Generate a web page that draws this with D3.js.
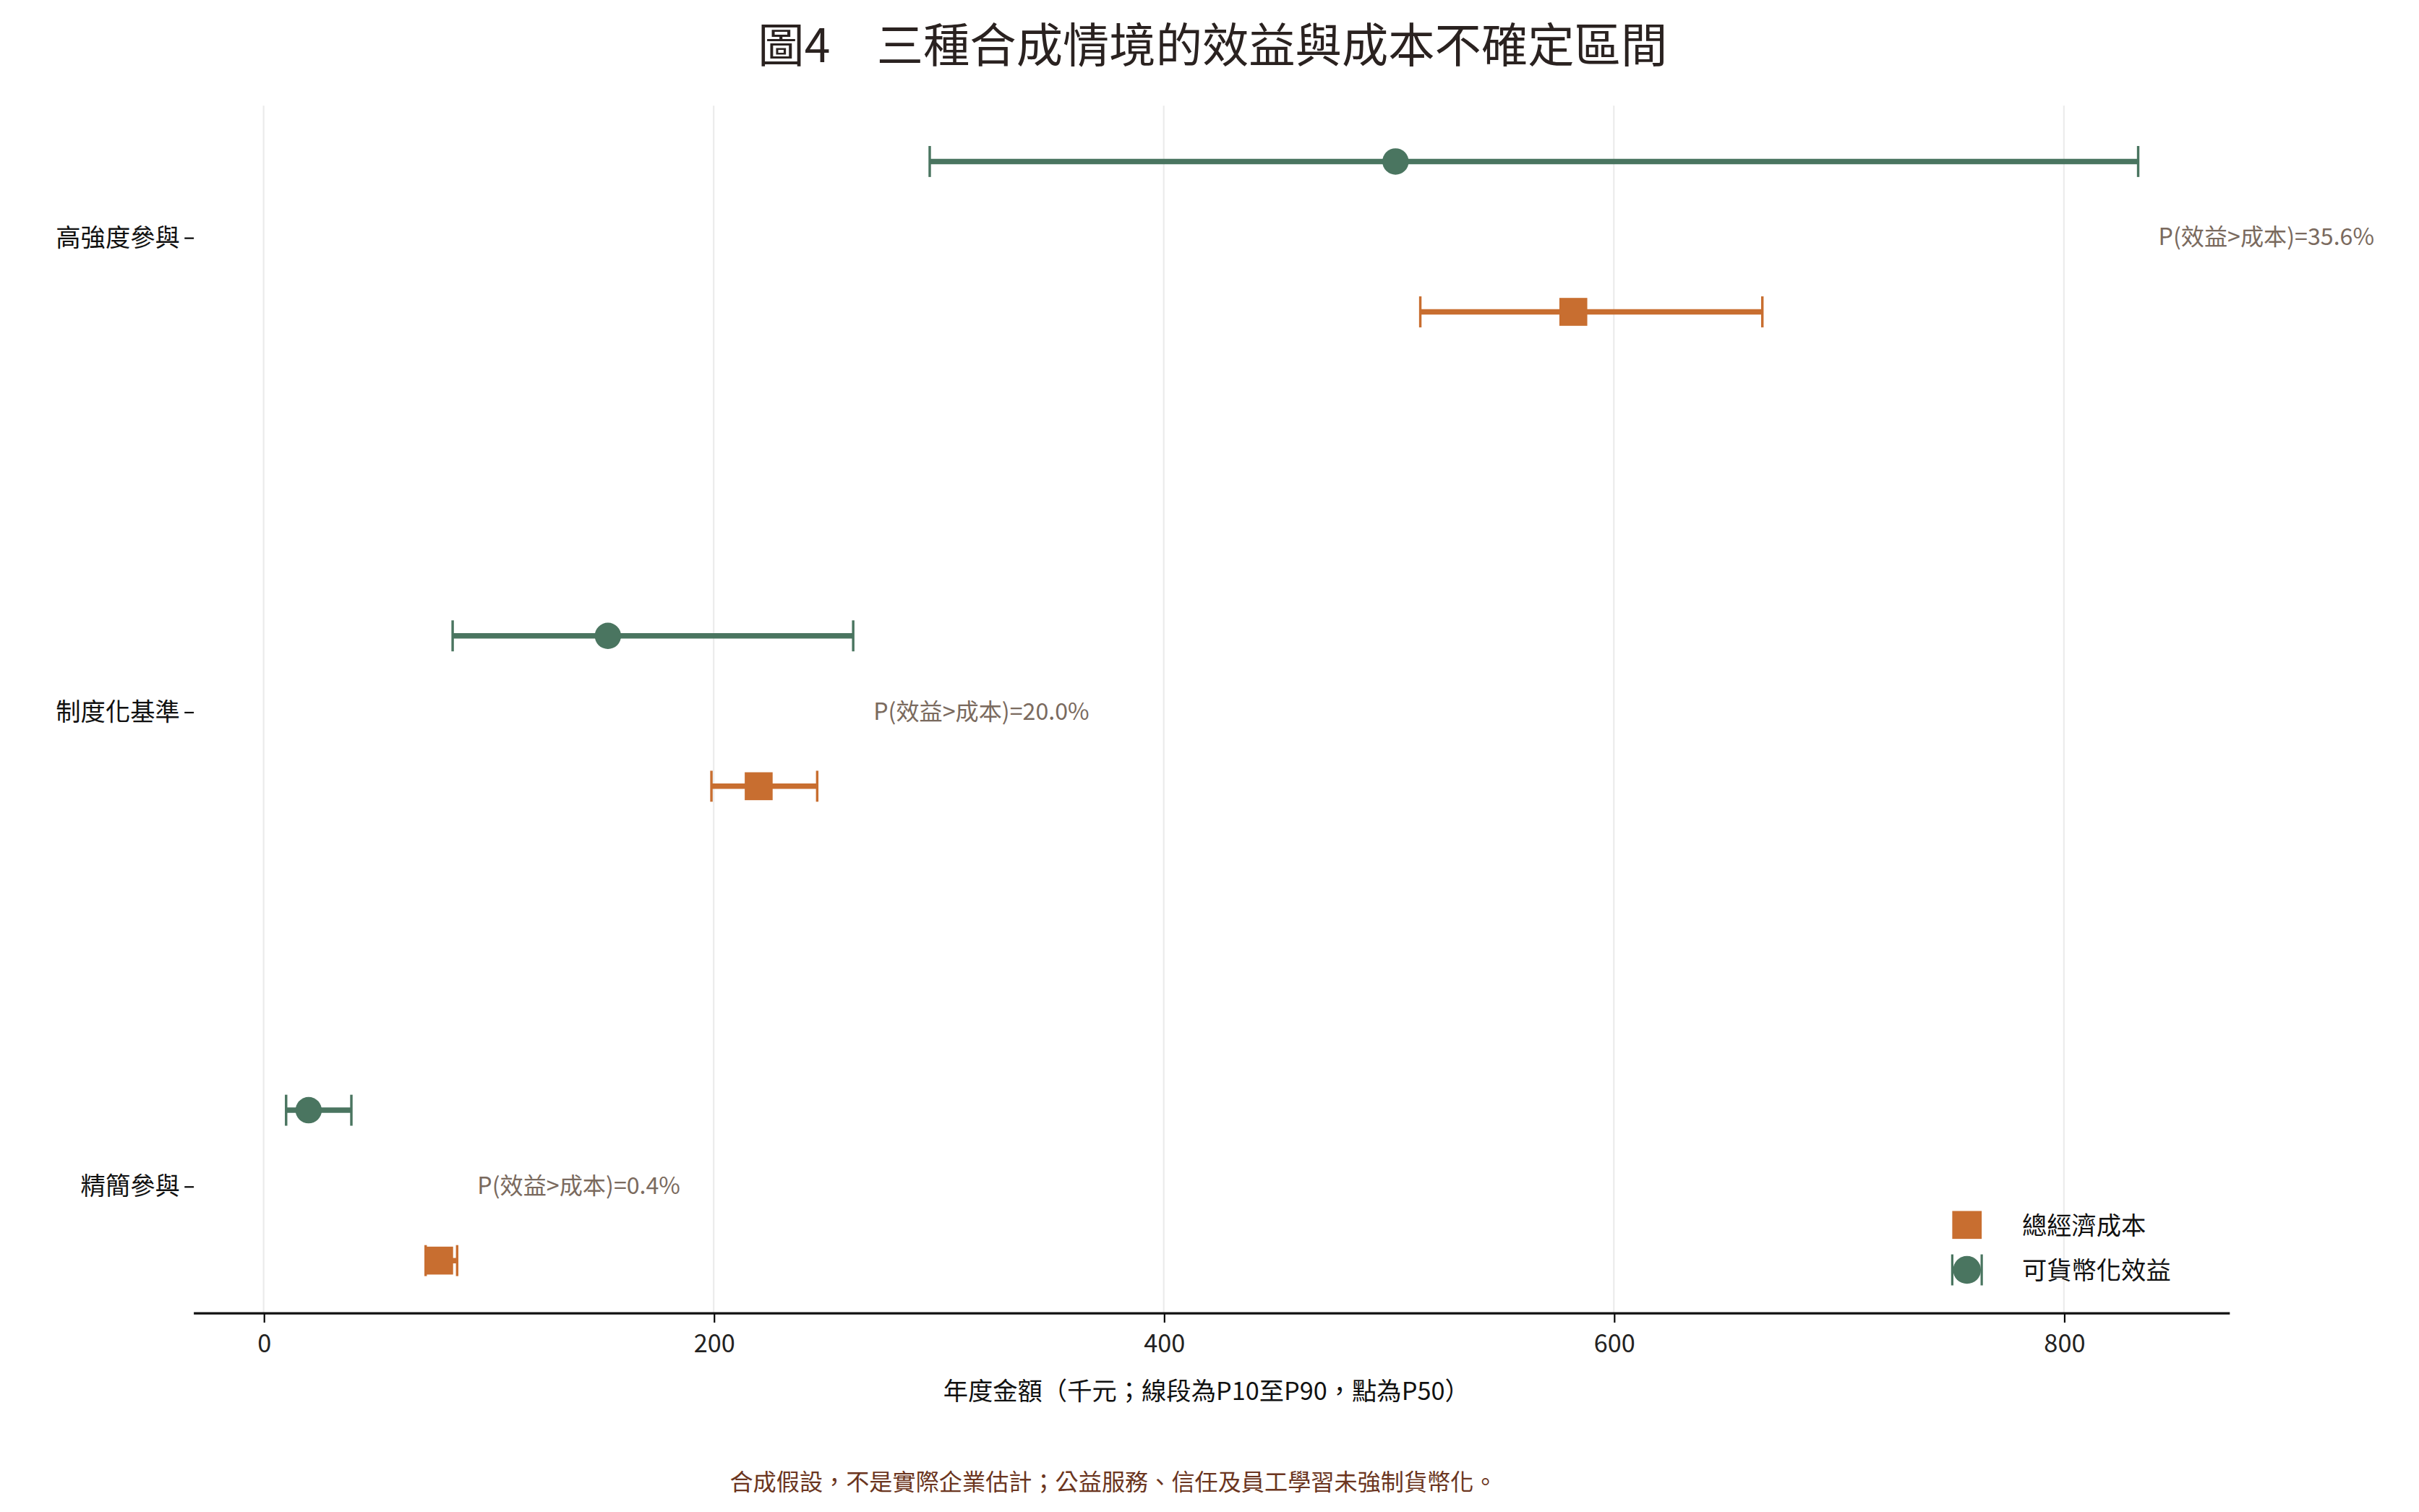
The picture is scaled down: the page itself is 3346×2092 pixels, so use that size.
<!DOCTYPE html>
<html><head><meta charset="utf-8">
<script src="https://cdn.jsdelivr.net/npm/d3@7"></script>
<style>body{margin:0;background:#fff}svg{display:block}text{font-family:"Noto Sans CJK TC","Noto Sans",sans-serif}</style>
</head><body>
<script>
const categories = ["高強度參與", "制度化基準", "精簡參與"];
const benefitP10 = [296, 84, 10];
const benefitP50 = [503, 153, 20];
const benefitP90 = [833, 262, 39];
const costP10 = [514, 199, 72];
const costP50 = [582, 220, 78];
const costP90 = [666, 246, 86];
const probLabels = ["P(效益>成本)=35.6%", "P(效益>成本)=20.0%", "P(效益>成本)=0.4%"];
const xTicks = [0, 200, 400, 600, 800];

const green = "#4a7560", orange = "#c86e30";
const svg = d3.select("body").append("svg").attr("width", 3346).attr("height", 2092).attr("viewBox", "0 0 1560 975");
const x = d3.scaleLinear().domain([0, 800]).range([170, 1331]);
const y = d3.scalePoint().domain(categories).range([153, 765]);
const plotTop = 68, plotBottom = 847;

svg.append("text").attr("x", 782).attr("y", 40).attr("text-anchor", "middle").attr("font-size", 30).attr("fill", "#2a2220").text("圖4\u3000三種合成情境的效益與成本不確定區間");

svg.append("g").selectAll("line").data(xTicks).join("line")
  .attr("x1", d => x(d)).attr("x2", d => x(d)).attr("y1", plotTop).attr("y2", plotBottom)
  .attr("stroke", "#ebebeb").attr("stroke-width", 1);

const xa = svg.append("g").attr("transform", `translate(0,${plotBottom})`)
  .call(d3.axisBottom(x).tickValues(xTicks).tickSize(6).tickSizeOuter(0));
xa.select(".domain").remove();
xa.selectAll("text").attr("font-size", 16).attr("fill", "#222").attr("dy", "1em");
svg.append("line").attr("x1", 125).attr("x2", 1438).attr("y1", plotBottom).attr("y2", plotBottom).attr("stroke", "#111").attr("stroke-width", 1.5);

const ya = svg.append("g").attr("transform", "translate(125,0)").call(d3.axisLeft(y).tickSize(6));
ya.select(".domain").remove();
ya.selectAll("text").attr("font-size", 16).attr("fill", "#111");

svg.append("text").attr("x", 778).attr("y", 903).attr("text-anchor", "middle").attr("font-size", 16).attr("fill", "#111").text("年度金額（千元；線段為P10至P90，點為P50）");
svg.append("text").attr("x", 718).attr("y", 961).attr("text-anchor", "middle").attr("font-size", 15).attr("fill", "#6b3520").text("合成假設，不是實際企業估計；公益服務、信任及員工學習未強制貨幣化。");

function errbar(lo, hi, cy, col) {
  svg.append("line").attr("x1", x(lo)).attr("x2", x(hi)).attr("y1", cy).attr("y2", cy).attr("stroke", col).attr("stroke-width", 3.5);
  [lo, hi].forEach(v => svg.append("line").attr("x1", x(v)).attr("x2", x(v)).attr("y1", cy - 10).attr("y2", cy + 10).attr("stroke", col).attr("stroke-width", 1.6));
}
categories.forEach((c, i) => {
  const cy = y(c);
  errbar(benefitP10[i], benefitP90[i], cy - 49, green);
  svg.append("circle").attr("cx", x(benefitP50[i])).attr("cy", cy - 49).attr("r", 8.5).attr("fill", green);
  errbar(costP10[i], costP90[i], cy + 48, orange);
  svg.append("rect").attr("x", x(costP50[i]) - 9).attr("y", cy + 39).attr("width", 18).attr("height", 18).attr("fill", orange);
  svg.append("text").attr("x", x(Math.max(benefitP90[i], costP90[i]) + 9)).attr("y", cy + 5).attr("font-size", 15).attr("fill", "#7a6a5e").text(probLabels[i]);
});

const lg = svg.append("g");
lg.append("rect").attr("x", 1259).attr("y", 781).attr("width", 19).attr("height", 18).attr("fill", orange);
lg.append("text").attr("x", 1304).attr("y", 796).attr("font-size", 16).attr("fill", "#111").text("總經濟成本");
[1259, 1278].forEach(v => lg.append("line").attr("x1", v).attr("x2", v).attr("y1", 809).attr("y2", 829).attr("stroke", green).attr("stroke-width", 1.5));
lg.append("circle").attr("cx", 1268.5).attr("cy", 819).attr("r", 9).attr("fill", green);
lg.append("text").attr("x", 1304).attr("y", 825).attr("font-size", 16).attr("fill", "#111").text("可貨幣化效益");
</script>
</body></html>
